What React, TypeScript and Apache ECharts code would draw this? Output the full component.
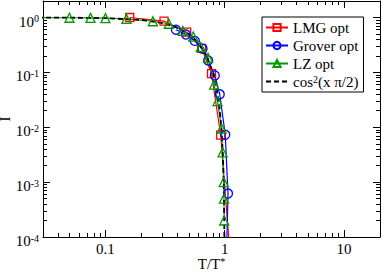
import React, { useEffect, useRef } from 'react';
import * as echarts from 'echarts';

// LMG opt (red squares)
const lmgX = [0.16, 0.31, 0.48, 0.64, 0.775, 0.925, 1.12];
const lmgY = [1.0, 0.86, 0.54, 0.275, 0.095, 0.0072, 0.000036];
// Grover opt (blue circles)
const groverX = [0.39, 0.473, 0.562, 0.652, 0.726, 0.825, 0.908, 1.01, 1.065, 1.03];
const groverY = [0.6, 0.49, 0.375, 0.27, 0.165, 0.088, 0.04, 0.0073, 0.00062, 0.00003];
// LZ opt (green triangles)
const lzX = [0.025, 0.05, 0.075, 0.1, 0.15, 0.25, 0.34, 0.445, 0.545, 0.63, 0.725, 0.815, 0.87, 0.94, 0.96, 0.98, 0.985, 0.99];
const lzY = [0.998, 0.99, 0.985, 0.975, 0.945, 0.855, 0.77, 0.57, 0.45, 0.29, 0.185, 0.06, 0.03, 0.0095, 0.0035, 0.001, 0.0005, 0.0002];
// cos^2(x pi/2) reference curve (dashed)
const cosX = [0.02, 0.05, 0.1, 0.2, 0.3, 0.4, 0.5, 0.6, 0.7, 0.8, 0.85, 0.9, 0.93, 0.95, 0.97, 0.98, 0.99, 0.995];
const cosY = [0.999, 0.9938, 0.9755, 0.9045, 0.7939, 0.6545, 0.5, 0.3455, 0.2061, 0.0955, 0.0545, 0.0245, 0.012, 0.00616, 0.00222, 0.000987, 0.000247, 0.0000617];

const seriesNames = ['LMG opt', 'Grover opt', 'LZ opt', 'cos2'];
const xMajorTicks = [0.1, 1, 10];
const xMinorTicks = [0.04, 0.05, 0.06, 0.07, 0.08, 0.09, 0.2, 0.3, 0.4, 0.5, 0.6, 0.7, 0.8, 0.9, 2, 3, 4, 5, 6, 7, 8, 9];
const yMajorTicks = [0.0001, 0.001, 0.01, 0.1, 1];
const yMinorTicks = [
  0.0002, 0.0003, 0.0004, 0.0005, 0.0006, 0.0007, 0.0008, 0.0009,
  0.002, 0.003, 0.004, 0.005, 0.006, 0.007, 0.008, 0.009,
  0.02, 0.03, 0.04, 0.05, 0.06, 0.07, 0.08, 0.09,
  0.2, 0.3, 0.4, 0.5, 0.6, 0.7, 0.8, 0.9,
];

const FONT = "'Liberation Serif', 'DejaVu Serif', serif";

export default function App() {
  const ref = useRef<HTMLDivElement>(null);
  useEffect(() => {
    document.body.style.margin = '0';
    const chart = echarts.init(ref.current!, null, { renderer: 'svg' });
    const zip = (xs: number[], ys: number[]) => xs.map((x, i) => [x, ys[i]]);
    const line = { show: true, onZero: false, lineStyle: { color: '#000', width: 1 } };
    const noLine = { show: false, onZero: false };
    const xBase = { type: 'log', logBase: 10, min: 0.03, max: 20, gridIndex: 0, splitLine: { show: false } };
    const yBase = { type: 'log', logBase: 10, min: 0.0001, max: 2, gridIndex: 0, splitLine: { show: false } };
    const tick = (vals: number[], len: number) => ({
      show: true, inside: true, length: len, customValues: vals, lineStyle: { color: '#000', width: 1 },
    });
    const hiddenLabel = { show: false };

    const xAxes: any[] = [
      {
        ...xBase, position: 'bottom', axisLine: line, axisTick: tick(xMajorTicks, 7),
        axisLabel: {
          customValues: xMajorTicks, margin: 4, fontFamily: FONT, fontSize: 15, color: '#000',
          formatter: (v: number) => String(+v.toPrecision(3)),
        },
        name: '{b|T/T}{s|*}', nameLocation: 'middle', nameGap: 19, nameMoveOverlap: false,
        nameTextStyle: {
          fontFamily: FONT, fontSize: 15, color: '#000',
          rich: {
            b: { fontFamily: FONT, fontSize: 15, lineHeight: 15, color: '#000' },
            s: { fontFamily: FONT, fontSize: 10, lineHeight: 10, verticalAlign: 'top', color: '#000' },
          },
        },
      },
      { ...xBase, position: 'bottom', axisLine: noLine, axisTick: tick(xMinorTicks, 4), axisLabel: hiddenLabel },
      { ...xBase, position: 'top', axisLine: line, axisTick: tick(xMajorTicks, 7), axisLabel: hiddenLabel },
      { ...xBase, position: 'top', axisLine: noLine, axisTick: tick(xMinorTicks, 4), axisLabel: hiddenLabel },
    ];
    const yAxes: any[] = [
      {
        ...yBase, position: 'left', axisLine: line, axisTick: tick(yMajorTicks, 7),
        axisLabel: {
          customValues: yMajorTicks, margin: 4, fontFamily: FONT, fontSize: 15, color: '#000',
          padding: [8, 0, 0, 0],
          formatter: (v: number) => `{b|10}{s|${Math.round(Math.log10(v))}}`,
          rich: {
            b: { fontFamily: FONT, fontSize: 15, lineHeight: 16, color: '#000' },
            s: { fontFamily: FONT, fontSize: 10, lineHeight: 10, verticalAlign: 'top', color: '#000' },
          },
        },
        name: 'I', nameLocation: 'middle', nameGap: 31, nameRotate: 90, nameMoveOverlap: false,
        nameTextStyle: { fontFamily: FONT, fontSize: 15, color: '#000' },
      },
      { ...yBase, position: 'left', axisLine: noLine, axisTick: tick(yMinorTicks, 4), axisLabel: hiddenLabel },
      { ...yBase, position: 'right', axisLine: line, axisTick: tick(yMajorTicks, 7), axisLabel: hiddenLabel },
      { ...yBase, position: 'right', axisLine: noLine, axisTick: tick(yMinorTicks, 4), axisLabel: hiddenLabel },
    ];

    const mk = (name: string, data: number[][], color: string, symbol: string, size: number) => ({
      name, type: 'line', data, xAxisIndex: 0, yAxisIndex: 0,
      symbol, symbolSize: size, showAllSymbol: true,
      lineStyle: { color, width: 1.2 },
      itemStyle: { color: 'rgba(255,255,255,0)', borderColor: color, borderWidth: 1.3 },
      emphasis: { disabled: true },
    });

    chart.setOption({
      animation: false,
      backgroundColor: '#fff',
      grid: { left: 43, right: 2, top: 1, bottom: 36, containLabel: false, outerBoundsMode: 'none' },
      xAxis: xAxes,
      yAxis: yAxes,
      legend: {
        orient: 'vertical', left: 262, top: 17,
        data: [
          seriesNames[0], seriesNames[1], seriesNames[2],
          { name: seriesNames[3], itemStyle: { color: 'rgba(0,0,0,0)', borderWidth: 0, opacity: 0 } },
        ],
        borderColor: '#000', borderWidth: 1, borderRadius: 0,
        padding: [3, 5, 3, 3], itemGap: 3, itemWidth: 22, itemHeight: 9,
        formatter: (n: string) => (n === 'cos2' ? 'cos{s|2}(x π/2)' : n),
        textStyle: {
          fontFamily: FONT, fontSize: 15, color: '#000',
          rich: {
            s: { fontFamily: FONT, fontSize: 10, lineHeight: 10, verticalAlign: 'top', color: '#000' },
          },
        },
      },
      series: [
        mk(seriesNames[0], zip(lmgX, lmgY), '#ff0000', 'rect', 8),
        mk(seriesNames[1], zip(groverX, groverY), '#0000ff', 'circle', 9),
        mk(seriesNames[2], zip(lzX, lzY), '#009a00', 'triangle', 9),
        {
          name: seriesNames[3], type: 'line', data: zip(cosX, cosY), xAxisIndex: 0, yAxisIndex: 0,
          symbol: 'none', smooth: false,
          lineStyle: { color: '#000', width: 1.8, type: [5, 3] },
          itemStyle: { color: '#000' },
          emphasis: { disabled: true },
        },
      ],
    });
    return () => chart.dispose();
  }, []);
  return <div ref={ref} style={{ width: 382, height: 273 }} />;
}
